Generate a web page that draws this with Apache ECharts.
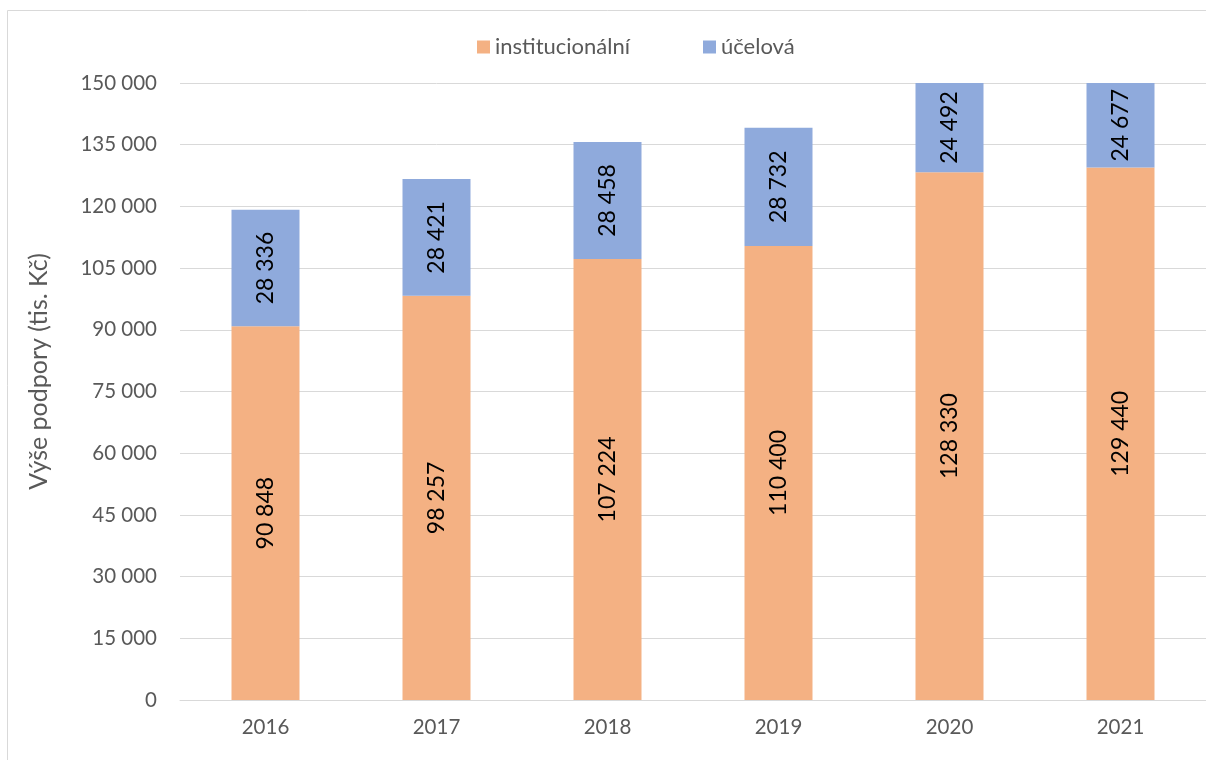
<!DOCTYPE html>
<html>
<head>
<meta charset="utf-8">
<script src="https://cdn.jsdelivr.net/npm/echarts@6/dist/echarts.min.js"></script>
<style>
html, body { margin: 0; padding: 0; background: #fff; }
#chart { width: 1206px; height: 760px; }
</style>
</head>
<body>
<div id="chart"></div>
<script>
const years = ["2016", "2017", "2018", "2019", "2020", "2021"]
const institucionalni = [90848, 98257, 107224, 110400, 128330, 129440]
const ucelova = [28336, 28421, 28458, 28732, 24492, 24677]
const yTicks = { min: 0, max: 150000, interval: 15000 }

const fontFamily = "Lato, 'Open Sans', sans-serif"
const textColor = "#595959"

// thousands with a space, like "150 000"
const fmt = v => String(v).replace(/\B(?=(\d{3})+(?!\d))/g, " ")

const labelStyle = {
	show: true,
	position: "inside",
	rotate: 90,
	color: "#000",
	fontSize: 23,
	fontFamily,
	formatter: p => fmt(p.value),
}

const chart = echarts.init(document.getElementById("chart"))
chart.setOption({
	animation: false,
	textStyle: { fontFamily },
	graphic: [
		{
			type: "rect",
			shape: { x: 7.5, y: 10.5, width: 1260, height: 800 },
			style: { fill: "none", stroke: "#d9d9d9", lineWidth: 1 },
			silent: true,
		},
	],
	legend: {
		top: 31,
		left: 472,
		itemWidth: 13,
		itemHeight: 13,
		itemGap: 73,
		icon: "rect",
		textStyle: { color: textColor, fontSize: 22, fontFamily },
		data: ["institucionální", "účelová"],
	},
	grid: {
		left: 180,
		right: 0,
		top: 83,
		bottom: 60,
	},
	xAxis: {
		type: "category",
		data: years,
		axisTick: { show: false },
		axisLine: { lineStyle: { color: "#d9d9d9", width: 1 } },
		axisLabel: { color: textColor, fontSize: 20.5, margin: 17 },
	},
	yAxis: {
		type: "value",
		min: yTicks.min,
		max: yTicks.max,
		interval: yTicks.interval,
		name: "Výše podpory (tis. Kč)",
		nameLocation: "middle",
		nameGap: 129,
		nameTextStyle: { color: textColor, fontSize: 25, padding: [0, 0, 0, 40] },
		axisLine: { show: false },
		axisTick: { show: false },
		splitLine: { lineStyle: { color: "#d9d9d9", width: 1 } },
		axisLabel: { color: textColor, fontSize: 20.5, margin: 23, formatter: fmt },
	},
	series: [
		{
			name: "institucionální",
			type: "bar",
			stack: "total",
			barWidth: 68,
			clip: true,
			itemStyle: { color: "#F4B183" },
			label: labelStyle,
			data: institucionalni,
		},
		{
			name: "účelová",
			type: "bar",
			stack: "total",
			barWidth: 68,
			clip: true,
			itemStyle: { color: "#8FAADC" },
			label: labelStyle,
			data: ucelova,
		},
	],
})
</script>
</body>
</html>
